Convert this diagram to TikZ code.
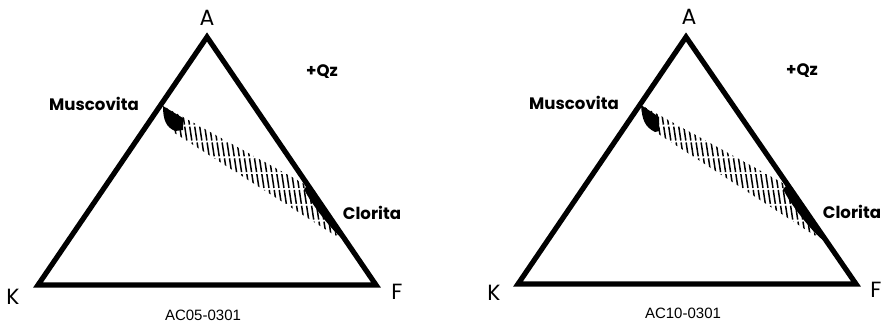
\documentclass[tikz,border=0pt]{standalone}
\usepackage{fontspec}
\setmainfont{Poppins}
\newfontfamily\codefont{Liberation Sans}
\usetikzlibrary{positioning}
\tikzstyle{side} = [line width=2.6pt]
\tikzstyle{vertex} = [inner sep=0pt, font=\fontsize{11}{11}\selectfont]
\tikzstyle{mineral} = [inner sep=0pt, font=\bfseries\fontsize{8.3}{9}\selectfont]
\tikzstyle{sample} = [inner sep=0pt, font=\codefont\fontsize{7.5}{8}\selectfont]
\tikzstyle{hatch} = [line width=0.75pt, dash pattern=on 7pt off 1pt]

\begin{document}
\begin{tikzpicture}[x=0.5pt, y=-0.5pt]
        \useasboundingbox (0,0) rectangle (887,322);

        % Diagram AC05-0301 (left)
        \begin{scope}
        \coordinate (A1) at (207,37);
        \coordinate (K1) at (38,285);
        \coordinate (F1) at (376,285);
        \coordinate (mus1a) at (163,106);
        \coordinate (mus1b) at (173,132);
        \coordinate (clo1a) at (310,187);
        \coordinate (clo1b) at (339,238);

        \begin{scope}
        \clip (mus1a) -- (clo1a) -- (clo1b) -- (mus1b) -- cycle;
        \foreach \x in {140,145,...,345}
            \draw [hatch] (\x,95) -- (\x+24,255);
        \end{scope}
        \fill (mus1a) -- (183,118) -- (183,130) -- (175,131) .. controls (166,127) and (163,120) .. (mus1a);
        \fill (309,184) -- (344,240) .. controls (334,233) and (311,204) .. (304,189) -- cycle;

        \draw [side] (A1) -- (K1) -- (F1) -- cycle;

        \node (lblA1) [vertex] at (207,18) {A};
        \node (lblK1) [vertex] at (13,297) {K};
        \node (lblF1) [vertex] at (397,292) {F};
        \node (mus1) [mineral] at (94,104) {Muscovita};
        \node (clo1) [mineral] at (372,213) {Clorita};
        \node (qz1) [mineral] at (322,72) {+Qz};
        \node (code1) [sample] at (203,315) {AC05-0301};
        \end{scope}

        % Diagram AC10-0301 (right)
        \begin{scope}[shift={(479,0)}]
        \coordinate (A2) at (207,37);
        \coordinate (K2) at (39,284);
        \coordinate (F2) at (377,284);
        \coordinate (mus2a) at (162,105);
        \coordinate (mus2b) at (178,133);
        \coordinate (clo2a) at (311,187);
        \coordinate (clo2b) at (338,237);

        \begin{scope}
        \clip (mus2a) -- (clo2a) -- (clo2b) -- (mus2b) -- cycle;
        \foreach \x in {140,145,...,345}
            \draw [hatch] (\x,95) -- (\x+24,255);
        \end{scope}
        \fill (mus2a) -- (180,117) -- (180,131) -- (176,132) .. controls (166,127) and (163,120) .. (mus2a);
        \fill (309,184) -- (344,240) .. controls (334,233) and (311,204) .. (304,189) -- cycle;

        \draw [side] (A2) -- (K2) -- (F2) -- cycle;

        \node (lblA2) [vertex] at (210,17) {A};
        \node (lblK2) [vertex] at (15,293) {K};
        \node (lblF2) [vertex] at (397,290) {F};
        \node (mus2) [mineral] at (95,103) {Muscovita};
        \node (clo2) [mineral] at (373,212) {Clorita};
        \node (qz2) [mineral] at (323,71) {+Qz};
        \node (code2) [sample] at (204,313) {AC10-0301};
        \end{scope}

    \end{tikzpicture}
\end{document}
